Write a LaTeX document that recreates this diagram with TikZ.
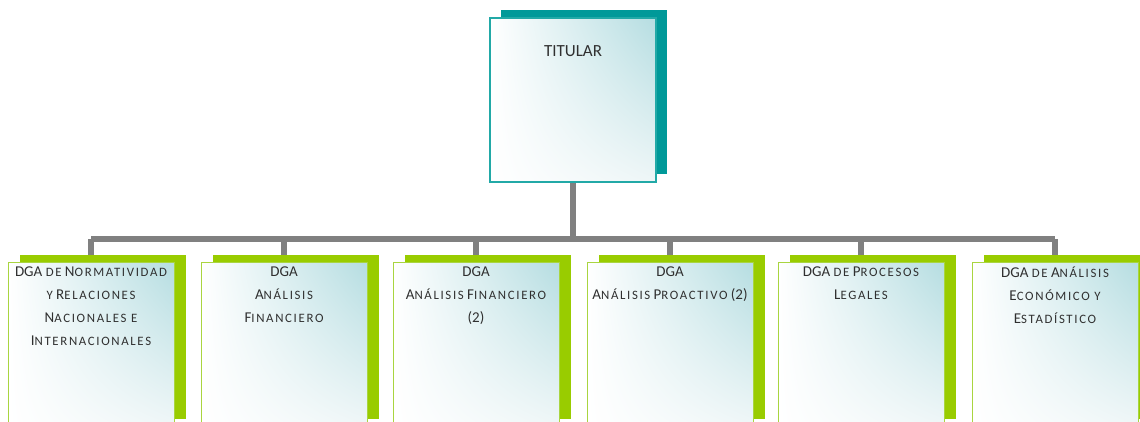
\documentclass[tikz,border=0pt]{standalone}
\usepackage{fontspec}
\usetikzlibrary{shadings}
\setmainfont{Carlito}
\newfontfamily\scf[LetterSpace=13]{Carlito}
\newcommand\sm[1]{{\scf\fontsize{12.8}{23}\selectfont\MakeUppercase{#1}}}
\definecolor{tealdark}{HTML}{009999}
\definecolor{tealline}{HTML}{22A9A7}
\definecolor{tealfill}{HTML}{B5DDE1}
\definecolor{tealmid}{HTML}{EEF6F7}
\definecolor{greendark}{HTML}{99CC00}
\definecolor{greenline}{HTML}{A9D540}
\definecolor{conn}{HTML}{808080}
\definecolor{txt}{HTML}{303030}
\tikzset{
  tealshadow/.style={fill=tealdark, draw=none, minimum width=166pt, minimum height=164pt, inner sep=0},
  titbox/.style={draw=tealline, line width=1.5pt, upper left=white, upper right=tealfill, lower left=white, lower right=tealmid, minimum width=166pt, minimum height=164pt, inner sep=0},
  greenshadow/.style={fill=greendark, draw=none, minimum width=166pt, minimum height=164pt, inner sep=0},
  unitbox/.style={draw=greenline, line width=1pt, upper left=white, upper right=tealfill, lower left=white, lower right=tealmid, minimum width=166pt, minimum height=160pt, inner sep=0},
  unittext/.style={anchor=north, align=center, inner sep=0, text=txt, font=\fontsize{15}{23}\selectfont},
  connector/.style={draw=conn, line width=6pt}
}
\begin{document}
\begin{tikzpicture}[x=1pt,y=-1pt]
\useasboundingbox (0,0) rectangle (1140,422);
% coordinates
\coordinate (bar) at (573,239);
% shadows and boxes positions
\foreach \i/\l in {1/8,2/201,3/393,4/587,5/778,6/972}{
  \coordinate (c\i) at ({\l+83},342);
}
% connectors
\draw[connector] (573,182) coordinate (tb) -- (tb |- bar);
\draw[connector] (c1 |- bar) -- (c6 |- bar);
\foreach \i in {1,...,6}{
  \draw[connector] (c\i |- bar) -- ([yshift=-86pt]c\i);
}
% titular
\node[tealshadow] (ts) at (584,92) {};
\node[titbox] (tit) at (573,100) {};
\node[anchor=base, text=txt, font=\fontsize{17}{20}\selectfont] (titt) at (573,57) {TITULAR};
% units
\foreach \i in {1,...,6}{
  \node[greenshadow] (s\i) at ([xshift=12pt,yshift=5pt]c\i) {};
  \node[unitbox] (b\i) at (c\i) {};
}
\node[unittext] (t1) at ([yshift=-5pt]b1.north) {DGA \sm{de} N\sm{ormatividad}\\ \sm{y} R\sm{elaciones}\\ N\sm{acionales e}\\ I\sm{nternacionales}};
\node[unittext] (t2) at ([yshift=-5pt]b2.north) {DGA\\ A\sm{nálisis}\\ F\sm{inanciero}};
\node[unittext] (t3) at ([yshift=-5pt]b3.north) {DGA\\ A\sm{nálisis} F\sm{inanciero}\\ (2)};
\node[unittext] (t4) at ([yshift=-5pt]b4.north) {DGA\\ A\sm{nálisis} P\sm{roactivo} (2)};
\node[unittext] (t5) at ([yshift=-5pt]b5.north) {DGA \sm{de} P\sm{rocesos}\\ L\sm{egales}};
\node[unittext] (t6) at ([yshift=-5pt]b6.north) {DGA \sm{de} A\sm{nálisis}\\ E\sm{conómico y}\\ E\sm{stadístico}};
\end{tikzpicture}
\end{document}
